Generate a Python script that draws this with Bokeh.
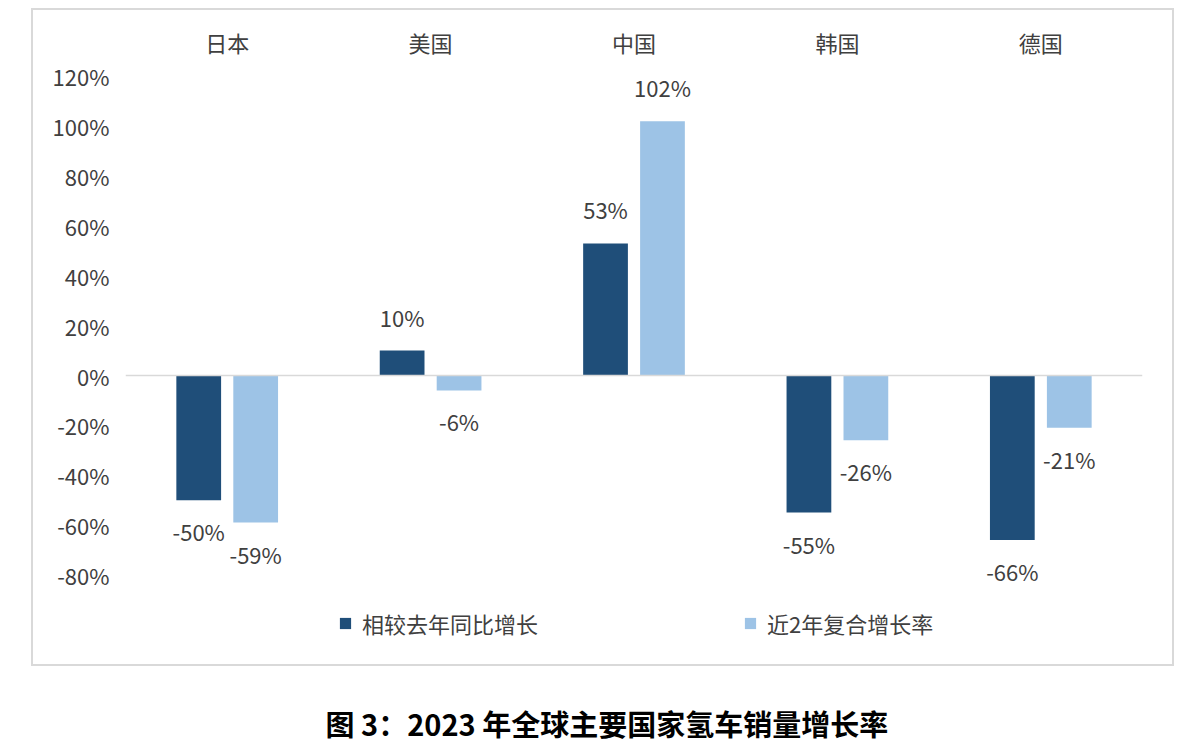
from bokeh.plotting import figure
from bokeh.models import (ColumnDataSource, FactorRange, Range1d, FixedTicker,
                          NumeralTickFormatter, Span, Legend, LegendItem, Title)
from bokeh.transform import dodge
from bokeh.core.properties import value
from bokeh.embed import file_html
from bokeh.resources import INLINE

# ---------------- data ----------------
countries = ["日本", "美国", "中国", "韩国", "德国"]
yoy_growth = [-0.50, 0.10, 0.53, -0.55, -0.66]      # 相较去年同比增长
cagr_2y = [-0.59, -0.06, 1.02, -0.26, -0.21]         # 近2年复合增长率
series_names = ["相较去年同比增长", "近2年复合增长率"]
y_ticks = [-0.8, -0.6, -0.4, -0.2, 0.0, 0.2, 0.4, 0.6, 0.8, 1.0, 1.2]
title_text = "图 3：2023 年全球主要国家氢车销量增长率"

# ---------------- style ----------------
DARK = "#1F4E79"
LIGHT = "#9DC3E6"
FONT = "Noto Sans CJK SC"
TEXT = "#404040"
W, H = 1195, 743
F_LEFT, F_RIGHT, F_TOP, F_BOTTOM = 125, 1142, 69, 701
PX_PER_UNIT = 250.0
ZERO_Y = 376
y_start = -(F_BOTTOM - ZERO_Y) / PX_PER_UNIT
y_end = (ZERO_Y - F_TOP) / PX_PER_UNIT
OFF = 0.14
BAR_W = 0.22

border_css = """
:host { position: relative; }
:host::after {
  content: ""; position: absolute; left: 31px; top: 8px;
  width: 1139px; height: 654px; border: 2px solid #d9d9d9;
  pointer-events: none; z-index: 10;
}
"""

p = figure(width=W, height=H, x_range=FactorRange(*countries),
           y_range=Range1d(y_start, y_end), x_axis_location="above",
           output_backend="svg", toolbar_location=None,
           min_border_left=F_LEFT, min_border_right=W - F_RIGHT,
           min_border_top=F_TOP, min_border_bottom=H - F_BOTTOM,
           stylesheets=[border_css])
p.outline_line_color = None
p.background_fill_color = "white"
p.border_fill_color = "white"
p.xgrid.visible = False
p.ygrid.visible = False

src = ColumnDataSource(dict(country=countries, yoy=yoy_growth, cagr=cagr_2y))
r1 = p.vbar(x=dodge("country", -OFF, range=p.x_range), top="yoy", bottom=0,
            width=BAR_W, source=src, fill_color=DARK, line_color=None)
r2 = p.vbar(x=dodge("country", OFF, range=p.x_range), top="cagr", bottom=0,
            width=BAR_W, source=src, fill_color=LIGHT, line_color=None)

p.add_layout(Span(location=0, dimension="width", line_color="#d9d9d9", line_width=1.5))

# data labels
def add_labels(vals, off):
    pos = [(c, v, f"{round(v*100):d}%") for c, v in zip(countries, vals) if v >= 0]
    neg = [(c, v, f"{round(v*100):d}%") for c, v in zip(countries, vals) if v < 0]
    for rows, yo in ((pos, -34), (neg, 31)):
        if not rows:
            continue
        s = ColumnDataSource(dict(country=[r[0] for r in rows], v=[r[1] for r in rows],
                                  t=[r[2] for r in rows]))
        p.text(x=dodge("country", off, range=p.x_range), y="v", text="t", source=s,
               text_align="center", text_baseline="middle", y_offset=yo,
               text_font=value(FONT), text_font_size="22px", text_color=TEXT)

add_labels(yoy_growth, -OFF)
add_labels(cagr_2y, OFF)

# axes
ya = p.yaxis[0]
ya.ticker = FixedTicker(ticks=y_ticks)
ya.formatter = NumeralTickFormatter(format="0%")
ya.axis_line_color = None
ya.major_tick_line_color = None
ya.minor_tick_line_color = None
ya.major_label_standoff = 10
ya.major_label_text_font = FONT
ya.major_label_text_font_size = "22px"
ya.major_label_text_color = TEXT

xa = p.xaxis[0]
xa.axis_line_color = None
xa.major_tick_line_color = None
xa.minor_tick_line_color = None
xa.major_label_standoff = 6
xa.major_label_text_font = FONT
xa.major_label_text_font_size = "22px"
xa.major_label_text_color = TEXT

# legend
legend = Legend(items=[LegendItem(label=series_names[0], renderers=[r1]),
                       LegendItem(label=series_names[1], renderers=[r2])],
                orientation="horizontal", location=(338 - F_LEFT, F_BOTTOM - 641),
                glyph_width=14, glyph_height=14, label_standoff=10, spacing=205,
                padding=0, margin=0, border_line_color=None, background_fill_alpha=0,
                label_text_font=FONT, label_text_font_size="22px",
                label_text_color=TEXT, label_height=26)
p.add_layout(legend, "center")

# caption below the chart
cap = Title(text=title_text, align="left", offset=325 - F_LEFT, standoff=0,
            text_font=FONT, text_font_size="29px", text_font_style="bold",
            text_color="#000000")
p.add_layout(cap, "below")

open("out.html", "w").write(file_html(p, INLINE))
